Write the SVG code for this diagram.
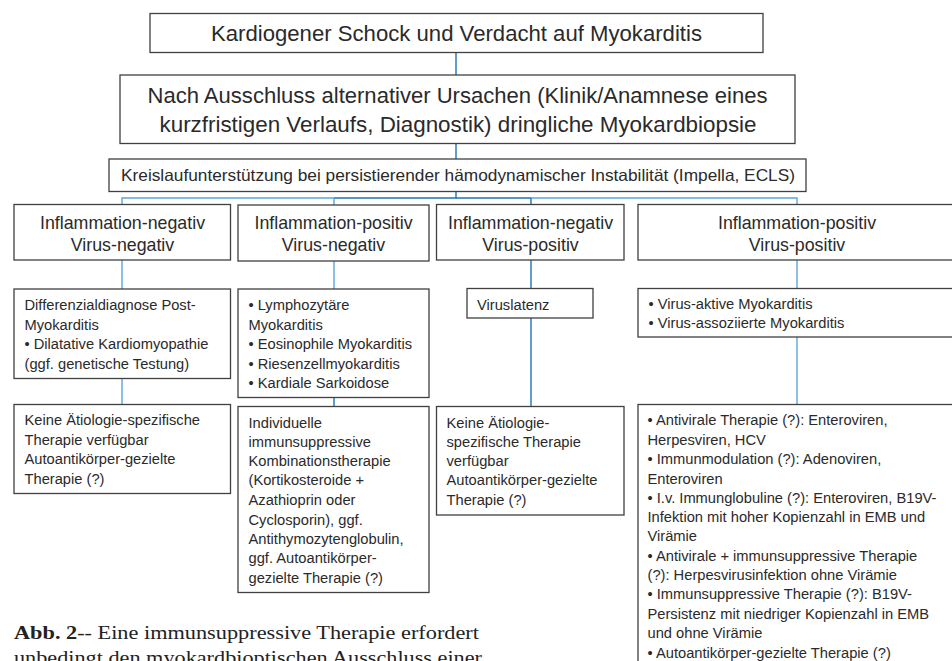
<svg xmlns="http://www.w3.org/2000/svg" width="952" height="661" viewBox="0 0 952 661">
<style>
.box{fill:#fff;stroke:#404040;stroke-width:1.3}
.t{font-family:"Liberation Sans",Arial,sans-serif;fill:#2a2a2a}
.big{font-size:22px}
.mid{font-size:16.5px}
.hd{font-size:17.8px}
.b{font-size:14.7px}
.c{text-anchor:middle}
.cap{font-family:"Liberation Serif","Times New Roman",serif;font-size:19px;fill:#222}
.cd{fill:none;stroke:#1f72b5;stroke-width:1.4}
.cl{fill:none;stroke:#5aa6d8;stroke-width:1.4}
</style>
<rect width="952" height="661" fill="#fff"/>
<g id="connectors">
<line class="cd" x1="456" y1="52.5" x2="456" y2="75"/>
<line class="cd" x1="456" y1="143.5" x2="456" y2="159"/>
<polyline class="cd" points="456,191.5 456,198 334,198"/>
<polyline class="cl" points="334,198 122,198 122,204.5"/>
<line class="cl" x1="334" y1="198" x2="334" y2="205"/>
<polyline class="cd" points="456,198 531,198"/>
<polyline class="cl" points="531,198 797,198 797,204.5"/>
<line class="cd" x1="531" y1="198" x2="531" y2="204.5"/>
<line class="cl" x1="122" y1="260" x2="122" y2="289"/>
<line class="cl" x1="122" y1="378.5" x2="122" y2="404.5"/>
<line class="cl" x1="334" y1="261" x2="334" y2="289"/>
<line class="cd" x1="334" y1="397.5" x2="334" y2="406.5"/>
<line class="cd" x1="531" y1="260" x2="531" y2="288.5"/>
<line class="cd" x1="531" y1="318" x2="531" y2="406.5"/>
<line class="cl" x1="797" y1="260" x2="797" y2="288.5"/>
<line class="cl" x1="797" y1="337" x2="797" y2="404.5"/>
</g>
<g id="n1">
<rect class="box" x="150" y="13.5" width="613" height="39"/>
<text class="t big c" x="456.5" y="41" textLength="491" lengthAdjust="spacingAndGlyphs">Kardiogener Schock und Verdacht auf Myokarditis</text>
</g>
<g id="n2">
<rect class="box" x="120" y="75" width="675" height="68.5"/>
<text class="t big c" x="457.5" y="103" textLength="620" lengthAdjust="spacingAndGlyphs">Nach Ausschluss alternativer Ursachen (Klinik/Anamnese eines</text>
<text class="t big c" x="458" y="132" textLength="597" lengthAdjust="spacingAndGlyphs">kurzfristigen Verlaufs, Diagnostik) dringliche Myokardbiopsie</text>
</g>
<g id="n3">
<rect class="box" x="109" y="159" width="697" height="32.5"/>
<text class="t mid c" x="458" y="181" textLength="674" lengthAdjust="spacingAndGlyphs">Kreislaufunterstützung bei persistierender hämodynamischer Instabilität (Impella, ECLS)</text>
</g>
<g id="h1">
<rect class="box" x="14" y="204.5" width="216.5" height="55.5"/>
<text class="t hd c" x="122.5" y="228.5">Inflammation-negativ</text>
<text class="t hd c" x="122.5" y="250.5">Virus-negativ</text>
</g>
<g id="h2">
<rect class="box" x="238" y="205" width="191" height="56"/>
<text class="t hd c" x="333.5" y="228.5">Inflammation-positiv</text>
<text class="t hd c" x="333.5" y="250.5">Virus-negativ</text>
</g>
<g id="h3">
<rect class="box" x="436.5" y="204.5" width="187.5" height="55.5"/>
<text class="t hd c" x="530.5" y="228.5">Inflammation-negativ</text>
<text class="t hd c" x="530.5" y="250.5">Virus-positiv</text>
</g>
<g id="h4">
<rect class="box" x="638" y="204.5" width="330" height="55.5"/>
<text class="t hd c" x="797" y="228.5">Inflammation-positiv</text>
<text class="t hd c" x="797" y="250.5">Virus-positiv</text>
</g>
<g id="d1">
<rect class="box" x="14" y="289" width="216.5" height="89.5"/>
<text class="t b"><tspan x="24.5" y="310">Differenzialdiagnose Post-</tspan><tspan x="24.5" y="329.5">Myokarditis</tspan><tspan x="24.5" y="349">• Dilatative Kardiomyopathie</tspan><tspan x="24.5" y="368.5">(ggf. genetische Testung)</tspan></text>
</g>
<g id="d2">
<rect class="box" x="238" y="289" width="191" height="108.5"/>
<text class="t b"><tspan x="248.5" y="310">• Lymphozytäre</tspan><tspan x="248.5" y="329.5">Myokarditis</tspan><tspan x="248.5" y="349">• Eosinophile Myokarditis</tspan><tspan x="248.5" y="368.5">• Riesenzellmyokarditis</tspan><tspan x="248.5" y="388">• Kardiale Sarkoidose</tspan></text>
</g>
<g id="d3">
<rect class="box" x="467" y="288.5" width="126" height="29.5"/>
<text class="t b" x="477" y="309.5">Viruslatenz</text>
</g>
<g id="d4">
<rect class="box" x="638" y="288.5" width="330" height="48.5"/>
<text class="t b"><tspan x="648.5" y="309">• Virus-aktive Myokarditis</tspan><tspan x="648.5" y="328">• Virus-assoziierte Myokarditis</tspan></text>
</g>
<g id="r1">
<rect class="box" x="14" y="404.5" width="216.5" height="89"/>
<text class="t b"><tspan x="24.5" y="425">Keine Ätiologie-spezifische</tspan><tspan x="24.5" y="444.5">Therapie verfügbar</tspan><tspan x="24.5" y="464">Autoantikörper-gezielte</tspan><tspan x="24.5" y="483.5">Therapie (?)</tspan></text>
</g>
<g id="r2">
<rect class="box" x="238" y="406.5" width="191" height="186"/>
<text class="t b"><tspan x="248.5" y="427.5">Individuelle</tspan><tspan x="248.5" y="447">immunsuppressive</tspan><tspan x="248.5" y="466">Kombinationstherapie</tspan><tspan x="248.5" y="485">(Kortikosteroide +</tspan><tspan x="248.5" y="504.5">Azathioprin oder</tspan><tspan x="248.5" y="524.5">Cyclosporin), ggf.</tspan><tspan x="248.5" y="543.5">Antithymozytenglobulin,</tspan><tspan x="248.5" y="563">ggf. Autoantikörper-</tspan><tspan x="248.5" y="582.5">gezielte Therapie (?)</tspan></text>
</g>
<g id="r3">
<rect class="box" x="436.5" y="406.5" width="187.5" height="108.5"/>
<text class="t b"><tspan x="446.5" y="427.5">Keine Ätiologie-</tspan><tspan x="446.5" y="447">spezifische Therapie</tspan><tspan x="446.5" y="466">verfügbar</tspan><tspan x="446.5" y="485">Autoantikörper-gezielte</tspan><tspan x="446.5" y="504.5">Therapie (?)</tspan></text>
</g>
<g id="r4">
<rect class="box" x="638" y="404.5" width="330" height="280"/>
<text class="t b"><tspan x="647.5" y="425">• Antivirale Therapie (?): Enteroviren,</tspan><tspan x="647.5" y="444.5">Herpesviren, HCV</tspan><tspan x="647.5" y="464">• Immunmodulation (?): Adenoviren,</tspan><tspan x="647.5" y="483.5">Enteroviren</tspan><tspan x="647.5" y="502.5">• I.v. Immunglobuline (?): Enteroviren, B19V-</tspan><tspan x="647.5" y="522">Infektion mit hoher Kopienzahl in EMB und</tspan><tspan x="647.5" y="541">Virämie</tspan><tspan x="647.5" y="561">• Antivirale + immunsuppressive Therapie</tspan><tspan x="647.5" y="580">(?): Herpesvirusinfektion ohne Virämie</tspan><tspan x="647.5" y="599">• Immunsuppressive Therapie (?): B19V-</tspan><tspan x="647.5" y="619">Persistenz mit niedriger Kopienzahl in EMB</tspan><tspan x="647.5" y="638">und ohne Virämie</tspan><tspan x="647.5" y="657.5">• Autoantikörper-gezielte Therapie (?)</tspan></text>
</g>
<g id="caption">
<text class="cap" x="14" y="638.5" textLength="465" lengthAdjust="spacingAndGlyphs"><tspan font-weight="bold">Abb. 2</tspan>-- Eine immunsuppressive Therapie erfordert</text>
<text class="cap" x="14" y="663.5" textLength="468" lengthAdjust="spacingAndGlyphs">unbedingt den myokardbioptischen Ausschluss einer</text>
</g>
</svg>
